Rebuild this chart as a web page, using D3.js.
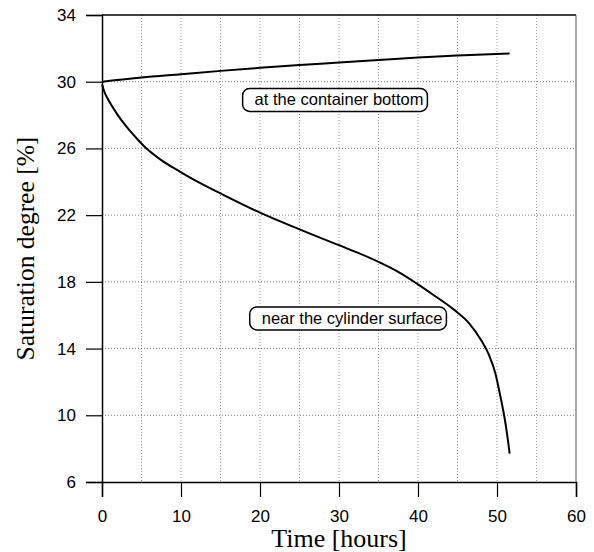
<!DOCTYPE html>
<html>
<head>
<meta charset="utf-8">
<script src="https://cdn.jsdelivr.net/npm/d3@7"></script>
<style>
  body { margin: 0; background: #fff; }
  svg { display: block; }
</style>
</head>
<body>
<svg width="594" height="552"></svg>
<script>
// time in hours
var bottomTime = [0, 5, 10, 15, 20, 25, 30, 35, 40, 45, 51.6];
// saturation at the container bottom [%]
var bottomSat = [30.0, 30.25, 30.45, 30.65, 30.83, 31.0, 31.15, 31.3, 31.45, 31.57, 31.7];

var surfaceTime = [0, 0.3, 1, 2, 3.1, 4.2, 5.4, 7.5, 9.9, 12.5, 15, 20, 25, 30, 32.5, 35, 37.5, 40, 42, 44.5, 46.5, 48, 49, 49.8, 50.4, 50.9, 51.3, 51.6];
// saturation near the cylinder surface [%]
var surfaceSat = [29.85, 29.4, 28.75, 28.0, 27.3, 26.7, 26.1, 25.3, 24.6, 23.9, 23.3, 22.15, 21.15, 20.2, 19.72, 19.2, 18.6, 17.85, 17.2, 16.35, 15.5, 14.5, 13.6, 12.5, 11.2, 10.0, 8.8, 7.7];

var xTicks = [0, 10, 20, 30, 40, 50, 60];
var xGrid = [5, 10, 15, 20, 25, 30, 35, 40, 45, 50, 55];
var yTicks = [6, 10, 14, 18, 22, 26, 30, 34];
var yGrid = [10, 14, 18, 22, 26, 30];

var labelText = ['at the container bottom', 'near the cylinder surface'];
var labelX = [17.8, 18.7];   // left edge of box, hours
var labelY = [29.6, 16.5];   // top edge of box, %

var marginLeft = 102, marginTop = 15, width = 474, height = 467;

var svg = d3.select('svg');
var root = svg.append('g').attr('transform', 'translate(' + marginLeft + ',' + marginTop + ')');

var x = d3.scaleLinear().domain([0, 60]).range([0, width]);
var y = d3.scaleLinear().domain([6, 34]).range([height, 0]);

// dotted grid
root.append('g').selectAll('line').data(xGrid).join('line')
  .attr('x1', d => x(d)).attr('x2', d => x(d))
  .attr('y1', 0).attr('y2', height)
  .attr('stroke', '#999').attr('stroke-width', 1).attr('stroke-dasharray', '1,2');
root.append('g').selectAll('line').data(yGrid).join('line')
  .attr('x1', 0).attr('x2', width)
  .attr('y1', d => y(d)).attr('y2', d => y(d))
  .attr('stroke', '#777').attr('stroke-width', 1).attr('stroke-dasharray', '1,2');

// frame
root.append('line').attr('x1', 0).attr('x2', width).attr('y1', 0).attr('y2', 0)
  .attr('stroke', '#000').attr('stroke-width', 1.5);
root.append('line').attr('x1', width).attr('x2', width).attr('y1', 0).attr('y2', height)
  .attr('stroke', '#555').attr('stroke-width', 1);

// axes
var xAxis = d3.axisBottom(x).tickValues(xTicks).tickSize(15).tickPadding(12);
var yAxis = d3.axisLeft(y).tickValues(yTicks).tickSize(16).tickPadding(10);

var gx = root.append('g').attr('transform', 'translate(0,' + height + ')').call(xAxis);
var gy = root.append('g').call(yAxis);
[gx, gy].forEach(function(g){
  g.select('.domain').attr('stroke', '#000').attr('stroke-width', 1.5);
  g.selectAll('.tick line').attr('stroke', '#000').attr('stroke-width', 1.2);
  g.selectAll('.tick text').attr('fill', '#000')
    .attr('font-family', 'Liberation Sans, Arial, sans-serif').attr('font-size', 17);
});
gx.selectAll('.tick text').attr('dy', '0.75em');

// curves
var line = d3.line().x(d => x(d[0])).y(d => y(d[1])).curve(d3.curveMonotoneX);
root.append('path').datum(d3.zip(bottomTime, bottomSat))
  .attr('d', line).attr('fill', 'none').attr('stroke', '#000').attr('stroke-width', 2);
root.append('path').datum(d3.zip(surfaceTime, surfaceSat))
  .attr('d', line).attr('fill', 'none').attr('stroke', '#000').attr('stroke-width', 2);

// labels in rounded boxes
labelText.forEach(function(t, i){
  var g = root.append('g').attr('transform', 'translate(' + x(labelX[i]) + ',' + y(labelY[i]) + ')');
  var txt = g.append('text').text(t)
    .attr('font-family', 'Liberation Sans, Arial, sans-serif').attr('font-size', 16.5)
    .attr('x', 12).attr('y', 17).attr('fill', '#000');
  var w = txt.node().getComputedTextLength();
  g.insert('rect', 'text')
    .attr('width', w + 16).attr('height', 23).attr('rx', 7).attr('ry', 7)
    .attr('fill', '#fff').attr('stroke', '#000').attr('stroke-width', 1.5);
});

// axis titles
svg.append('text').text('Time [hours]')
  .attr('x', marginLeft + x(30)).attr('y', 547)
  .attr('text-anchor', 'middle')
  .attr('font-family', 'Liberation Serif, Times New Roman, serif').attr('font-size', 26);
svg.append('text').text('Saturation degree [%]')
  .attr('transform', 'translate(34,' + (marginTop + y(20)) + ') rotate(-90)')
  .attr('text-anchor', 'middle')
  .attr('font-family', 'Liberation Serif, Times New Roman, serif').attr('font-size', 25.5);
</script>
</body>
</html>
